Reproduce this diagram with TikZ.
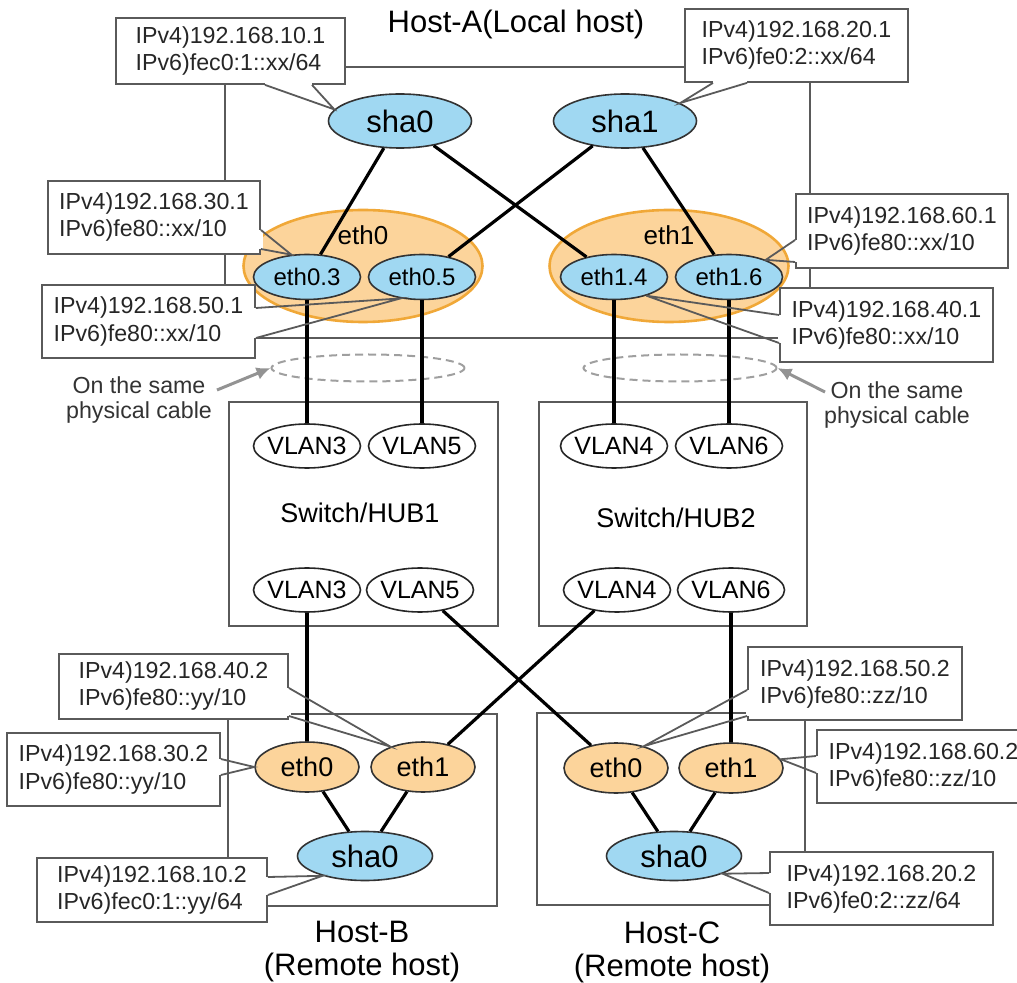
\documentclass[tikz,border=0pt]{standalone}
\usepackage{fontspec}
\setmainfont{Liberation Sans}
\usetikzlibrary{shapes.geometric,arrows.meta}
\definecolor{ifblue}{RGB}{160,216,242}
\definecolor{iforange}{RGB}{252,212,155}
\definecolor{bondedge}{RGB}{240,168,56}
\definecolor{boxgray}{RGB}{90,90,90}
\def\addrfont{\fontsize{11.6}{13.5}\selectfont}
% address callout: name, centre, width, height, text, wedge base 1, wedge base 2, tip
\newcommand{\addrbox}[8]{%
  \node[addr,minimum width=#3,minimum height=#4] (#1) at (#2) {#5};
  \draw[white,line width=1.6pt] (#6) -- (#7);
  \draw[addrline] (#6) -- (#8) -- (#7);
}

\begin{document}
\begin{tikzpicture}[x=0.5pt,y=-0.5pt,
  hostbox/.style={draw=boxgray,line width=1pt},
  bond/.style={ellipse,draw=bondedge,fill=iforange,line width=1.3pt,
    minimum width=119.5pt,minimum height=56pt},
  vif/.style={ellipse,draw=black!80,fill=ifblue,line width=0.8pt,inner sep=0pt,
    minimum width=53.5pt,minimum height=22.5pt,font=\fontsize{12}{14}\selectfont},
  sha/.style={ellipse,draw=black!80,fill=ifblue,line width=0.8pt,inner sep=0pt,
    font=\fontsize{15.5}{18}\selectfont},
  nic/.style={ellipse,draw=black!80,fill=iforange,line width=0.8pt,inner sep=0pt,
    minimum width=52pt,minimum height=25pt,font=\fontsize{13.5}{16}\selectfont},
  vlan/.style={ellipse,draw=black!85,fill=white,line width=0.8pt,inner xsep=-2pt,
    inner ysep=0pt,minimum width=53.5pt,minimum height=22pt,
    font=\fontsize{12.5}{15}\selectfont},
  cable/.style={ellipse,draw=gray!75,dash pattern=on 4pt off 2.5pt,line width=1pt,
    minimum width=96.5pt,minimum height=13.5pt},
  link/.style={line width=1.6pt},
  addr/.style={draw=boxgray,fill=white,line width=0.9pt,align=left,inner sep=0pt,
    font=\addrfont,text=black!85},
  addrline/.style={draw=boxgray,line width=0.9pt},
  note/.style={align=center,font=\fontsize{11.6}{12.5}\selectfont,text=black!80},
  noteline/.style={draw=gray!85,line width=1.5pt,-{Latex[length=7pt,width=6.5pt]}},
  title/.style={align=center,font=\fontsize{15.5}{16.5}\selectfont},
  label/.style={font=\fontsize{13.5}{16}\selectfont}]
\useasboundingbox (0,0) rectangle (1017,983);

% host and switch frames
\draw[hostbox] (225,67) rectangle (810,338);
\draw[hostbox] (229,402) rectangle (498,626);
\draw[hostbox] (539,402) rectangle (807,626);
\draw[hostbox] (228,714) rectangle (497,906);
\draw[hostbox] (537,713) rectangle (805,905);

% titles
\node[title] (hosta) at (516,24) {Host-A(Local host)};
\node[title] (hostb) at (362,952) {Host-B\\(Remote host)};
\node[title] (hostc) at (672,952) {Host-C\\(Remote host)};
\node[label] (hub1) at (360,513) {Switch/HUB1};
\node[label] (hub2) at (676,518) {Switch/HUB2};

% Host-A
\node[bond] (eth0) at (363,266) {};
\node[bond] (eth1) at (669,266) {};
\node[label,font=\fontsize{13}{15}\selectfont] (eth0lbl) at (363,235) {eth0};
\node[label,font=\fontsize{13}{15}\selectfont] (eth1lbl) at (669,235) {eth1};
\node[sha,minimum width=71.5pt,minimum height=27pt] (sha0A) at (400,121) {sha0};
\node[sha,minimum width=71.5pt,minimum height=27pt] (sha1A) at (625,121) {sha1};
\node[vif] (eth03) at (307,277) {eth0.3};
\node[vif] (eth05) at (422,277) {eth0.5};
\node[vif] (eth14) at (614,277) {eth1.4};
\node[vif] (eth16) at (729,277) {eth1.6};

% the same physical cable
\node[cable] (cab1) at (368,368) {};
\node[cable] (cab2) at (680,368) {};
\node[note] (note1) at (139,400) {On the same\\physical cable};
\node[note] (note2) at (897,405) {On the same\\physical cable};
\coordinate (n1) at (217,390);
\coordinate (n2) at (825,392);
\draw[noteline] (n1) -- (cab1.west);
\draw[noteline] (n2) -- (cab2.east);

% switches
\node[vlan] (vlan3a) at (307,446) {VLAN3};
\node[vlan] (vlan5a) at (422,446) {VLAN5};
\node[vlan] (vlan4a) at (614,446) {VLAN4};
\node[vlan] (vlan6a) at (729,446) {VLAN6};
\node[vlan] (vlan3b) at (307,590) {VLAN3};
\node[vlan] (vlan5b) at (420,590) {VLAN5};
\node[vlan] (vlan4b) at (617,590) {VLAN4};
\node[vlan] (vlan6b) at (731,590) {VLAN6};

% Host-B and Host-C
\node[nic] (eth0B) at (307,767) {eth0};
\node[nic] (eth1B) at (423,767) {eth1};
\node[sha,minimum width=67.5pt,minimum height=24.5pt] (sha0B) at (365,856) {sha0};
\node[nic] (eth0C) at (616,768) {eth0};
\node[nic] (eth1C) at (731,768) {eth1};
\node[sha,minimum width=67.5pt,minimum height=24.5pt] (sha0C) at (674,856) {sha0};

% cables
\draw[link] (sha0A) -- (eth03);
\draw[link] (sha0A) -- (eth14);
\draw[link] (sha1A) -- (eth05);
\draw[link] (sha1A) -- (eth16);
\draw[link] (eth03) -- (vlan3a);
\draw[link] (eth05) -- (vlan5a);
\draw[link] (eth14) -- (vlan4a);
\draw[link] (eth16) -- (vlan6a);
\draw[link] (vlan3b) -- (eth0B);
\draw[link] (vlan4b) -- (eth1B);
\draw[link] (vlan5b) -- (eth0C);
\draw[link] (vlan6b) -- (eth1C);
\draw[link] (eth0B) -- (sha0B);
\draw[link] (eth1B) -- (sha0B);
\draw[link] (eth0C) -- (sha0C);
\draw[link] (eth1C) -- (sha0C);

% addresses
\addrbox{c101}{230.5,51}{114.5pt}{33pt}{IPv4)192.168.10.1\\IPv6)fec0:1::xx/64}
  {265,0 |- c101.south}{312,0 |- c101.south}{sha0A.170}
\addrbox{c201}{796.5,45.5}{111.5pt}{36.5pt}{IPv4)192.168.20.1\\IPv6)fe0:2::xx/64}
  {713,0 |- c201.south}{747,0 |- c201.south}{sha1A.18}
\addrbox{c301}{154,217.5}{106pt}{36.5pt}{IPv4)192.168.30.1\\IPv6)fe80::xx/10}
  {c301.east |- 0,230}{c301.east |- 0,249}{eth03.125}
\addrbox{c501}{148.5,321.5}{106.5pt}{36.5pt}{IPv4)192.168.50.1\\IPv6)fe80::xx/10}
  {c501.east |- 0,308}{c501.east |- 0,338}{eth05.225}
\addrbox{c601}{902,231}{106pt}{37pt}{IPv4)192.168.60.1\\IPv6)fe80::xx/10}
  {c601.west |- 0,240}{c601.west |- 0,262}{eth16.25}
\addrbox{c401}{886.5,325}{106.5pt}{37pt}{IPv4)192.168.40.1\\IPv6)fe80::xx/10}
  {c401.west |- 0,315}{c401.west |- 0,343}{eth14.-30}
\addrbox{c402}{173.5,686.5}{114.5pt}{32.5pt}{IPv4)192.168.40.2\\IPv6)fe80::yy/10}
  {c402.east |- 0,688}{c402.east |- 0,716}{eth1B.148}
\addrbox{c302}{113.5,769.5}{106.5pt}{36.5pt}{IPv4)192.168.30.2\\IPv6)fe80::yy/10}
  {c302.east |- 0,759}{c302.east |- 0,775}{eth0B.180}
\addrbox{c102}{152,890}{115pt}{32pt}{IPv4)192.168.10.2\\IPv6)fec0:1::yy/64}
  {c102.east |- 0,877}{c102.east |- 0,895}{sha0B.205}
\addrbox{c502}{855,683.5}{107pt}{36.5pt}{IPv4)192.168.50.2\\IPv6)fe80::zz/10}
  {c502.west |- 0,690}{c502.west |- 0,716}{eth0C.38}
\addrbox{c602}{923.5,766.5}{106.5pt}{36.5pt}{IPv4)192.168.60.2\\IPv6)fe80::zz/10}
  {c602.west |- 0,756}{c602.west |- 0,773}{eth1C.10}
\addrbox{c202}{881.5,888.5}{111.5pt}{36.5pt}{IPv4)192.168.20.2\\IPv6)fe0:2::zz/64}
  {c202.west |- 0,873}{c202.west |- 0,893}{sha0C.-20}
\end{tikzpicture}
\end{document}
